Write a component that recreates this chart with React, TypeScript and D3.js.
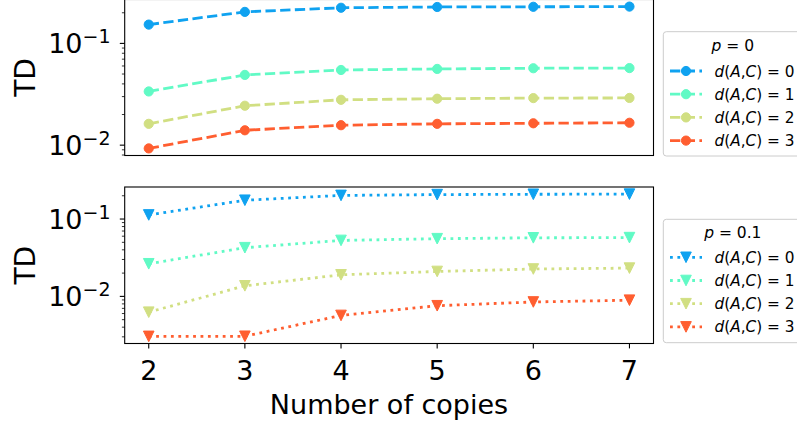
import React from "react";
import * as d3 from "d3";

const copies = [2, 3, 4, 5, 6, 7];
const xTickLabels = ["2", "3", "4", "5", "6", "7"];

// p = 0 (circles, dashed)
const p0_d0 = [0.153, 0.204, 0.224, 0.228, 0.229, 0.23];
const p0_d1 = [0.0337, 0.049, 0.0548, 0.0561, 0.057, 0.0572];
const p0_d2 = [0.0162, 0.0244, 0.0279, 0.0286, 0.029, 0.0291];
const p0_d3 = [0.00929, 0.014, 0.0157, 0.0162, 0.0164, 0.0166];

// p = 0.1 (triangles, dotted)
const p1_d0 = [0.113, 0.175, 0.202, 0.207, 0.209, 0.21];
const p1_d1 = [0.0264, 0.0426, 0.0529, 0.0557, 0.0572, 0.0575];
const p1_d2 = [0.00625, 0.0137, 0.019, 0.021, 0.0226, 0.0232];
const p1_d3 = [0.00304, 0.00305, 0.00567, 0.00757, 0.00847, 0.00893];

const seriesLabels = ["0", "1", "2", "3"];
const colors = ["#0fa2f0", "#61fac5", "#d1df82", "#ff5e30"];

const FONT = "DejaVu Sans, sans-serif";

type PanelProps = {
  series: number[][];
  top: number;
  bottom: number;
  marker: "circle" | "tri";
  dash: string;
  legendTitle: string;
  legendY: number;
  legendH: number;
  titleY: number;
  rowY0: number;
  showXLabels: boolean;
};

const left = 124.7;
const right = 653.5;

const x = d3
  .scaleLinear()
  .domain([2 - 0.25, 7 + 0.25])
  .range([left, right]);

function Marker({ kind, cx, cy, color }: { kind: string; cx: number; cy: number; color: string }) {
  if (kind === "circle") {
    return <circle cx={cx} cy={cy} r={4.6} fill={color} stroke={color} strokeWidth={1} />;
  }
  const h = 5.3;
  const pts = `${cx - h},${cy - h} ${cx + h},${cy - h} ${cx},${cy + h}`;
  return <polygon points={pts} fill={color} stroke={color} strokeWidth={1} strokeLinejoin="miter" />;
}

function Panel(p: PanelProps) {
  const all = p.series.flat();
  const lmin = Math.log10(d3.min(all)!);
  const lmax = Math.log10(d3.max(all)!);
  const m = (lmax - lmin) * 0.05;
  const y = d3
    .scaleLog()
    .domain([Math.pow(10, lmin - m), Math.pow(10, lmax + m)])
    .range([p.bottom, p.top]);
  const [d0, d1] = y.domain();
  const majors: number[] = [];
  const minors: number[] = [];
  for (let e = -4; e <= 0; e++) {
    for (let k = 1; k <= 9; k++) {
      const v = k * Math.pow(10, e);
      if (v >= d0 * 0.9999 && v <= d1 * 1.0001) {
        if (k === 1) majors.push(e);
        else minors.push(v);
      }
    }
  }
  const line = d3
    .line<number>()
    .x((_, i) => x(copies[i]))
    .y((v) => y(v));
  const legendX = 663.3;
  const legendW = 139;
  return (
    <g>
      <g>
        {p.series.map((s, si) => (
          <g key={si}>
            <path
              d={line(s)!}
              fill="none"
              stroke={colors[si]}
              strokeWidth={2.8}
              strokeDasharray={p.dash}
            />
            {s.map((v, i) => (
              <Marker key={i} kind={p.marker} cx={x(copies[i])} cy={y(v)} color={colors[si]} />
            ))}
          </g>
        ))}
      </g>
      <rect
        x={left}
        y={p.top}
        width={right - left}
        height={p.bottom - p.top}
        fill="none"
        stroke="#000"
        strokeWidth={1.1}
      />
      {majors.map((e) => (
        <g key={"M" + e}>
          <line x1={left - 4.9} x2={left} y1={y(Math.pow(10, e))} y2={y(Math.pow(10, e))} stroke="#000" strokeWidth={1.1} />
          <text
            x={110.5}
            y={y(Math.pow(10, e)) + 10}
            textAnchor="end"
            fontSize={27}
            fontFamily={FONT}
            fill="#000"
          >
            10
            <tspan dy={-10} fontSize={19}>
              {"\u2212" + Math.abs(e)}
            </tspan>
          </text>
        </g>
      ))}
      {minors.map((v, i) => (
        <line key={"m" + i} x1={left - 2.8} x2={left} y1={y(v)} y2={y(v)} stroke="#000" strokeWidth={0.8} />
      ))}
      {p.showXLabels &&
        copies.map((c, i) => (
          <g key={"x" + i}>
            <line x1={x(c)} x2={x(c)} y1={p.bottom} y2={p.bottom + 4.9} stroke="#000" strokeWidth={1.1} />
            <text x={x(c)} y={380} textAnchor="middle" fontSize={27} fontFamily={FONT} fill="#000">
              {xTickLabels[i]}
            </text>
          </g>
        ))}
      <text
        transform={`translate(35, ${(p.top + p.bottom) / 2}) rotate(-90)`}
        textAnchor="middle"
        fontSize={28}
        fontFamily={FONT}
        fill="#000"
      >
        TD
      </text>
      <g>
        <rect
          x={legendX}
          y={p.legendY}
          width={legendW}
          height={p.legendH}
          rx={3}
          fill="#fff"
          fillOpacity={0.8}
          stroke="#cccccc"
          strokeWidth={1}
        />
        <text
          x={legendX + legendW / 2}
          y={p.titleY + 5.5}
          textAnchor="middle"
          fontSize={15.5}
          fontFamily={FONT}
          fill="#000"
        >
          <tspan fontStyle="italic">p</tspan>
          {" = " + p.legendTitle}
        </text>
        {seriesLabels.map((lab, i) => {
          const ry = p.rowY0 + i * 23.2;
          return (
            <g key={"l" + i}>
              <line
                x1={670}
                x2={702}
                y1={ry}
                y2={ry}
                stroke={colors[i]}
                strokeWidth={2.8}
                strokeDasharray={p.dash}
              />
              <Marker kind={p.marker} cx={686} cy={ry} color={colors[i]} />
              <text x={714.5} y={ry + 5.5} fontSize={15.3} fontFamily={FONT} fill="#000">
                <tspan fontStyle="italic">d</tspan>(<tspan fontStyle="italic">A</tspan>,
                <tspan fontStyle="italic">C</tspan>){" = " + lab}
              </text>
            </g>
          );
        })}
      </g>
    </g>
  );
}

export default function App() {
  return (
    <svg
      width={797}
      height={423}
      style={{ position: "absolute", left: 0, top: 0, background: "#fff" }}
    >
      <rect x={0} y={0} width={797} height={423} fill="#fff" />
      <Panel
        series={[p0_d0, p0_d1, p0_d2, p0_d3]}
        top={-0.5}
        bottom={155.5}
        marker="circle"
        dash="10.3 4.4"
        legendTitle="0"
        legendY={31.7}
        legendH={124.3}
        titleY={45}
        rowY0={71}
        showXLabels={false}
      />
      <Panel
        series={[p1_d0, p1_d1, p1_d2, p1_d3]}
        top={187}
        bottom={343.5}
        marker="tri"
        dash="2.8 4.6"
        legendTitle="0.1"
        legendY={219.3}
        legendH={123.4}
        titleY={232.3}
        rowY0={257.3}
        showXLabels={true}
      />
      <text x={389} y={414} textAnchor="middle" fontSize={27} fontFamily={FONT} fill="#000">
        Number of copies
      </text>
    </svg>
  );
}
